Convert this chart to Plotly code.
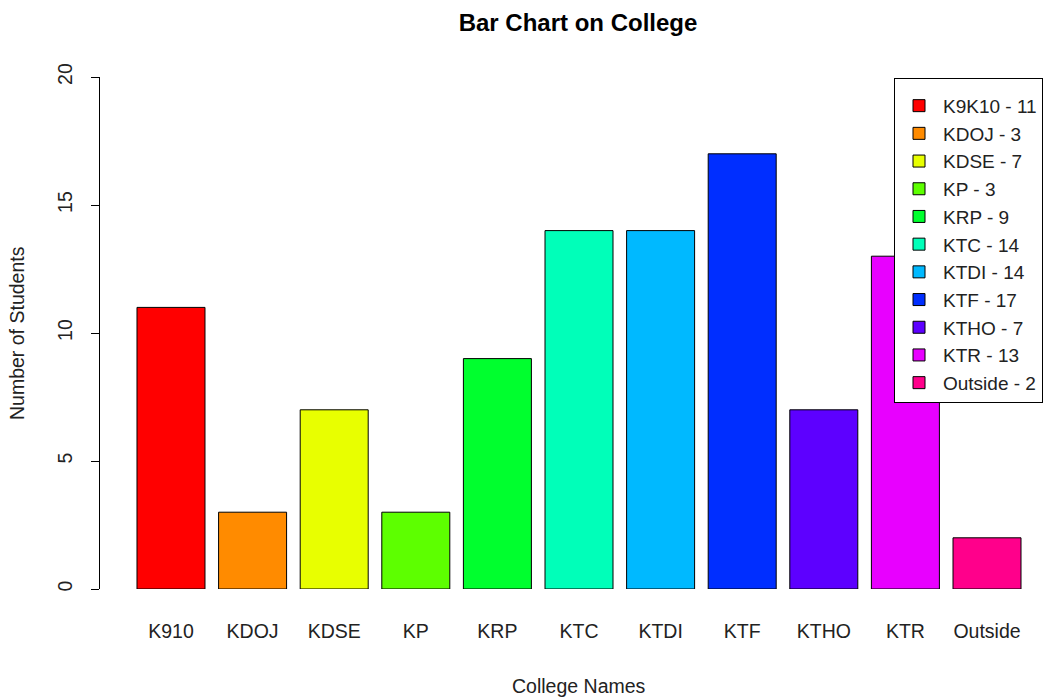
import plotly.graph_objects as go

colleges = ["K910", "KDOJ", "KDSE", "KP", "KRP", "KTC", "KTDI", "KTF", "KTHO", "KTR", "Outside"]
legend_names = ["K9K10", "KDOJ", "KDSE", "KP", "KRP", "KTC", "KTDI", "KTF", "KTHO", "KTR", "Outside"]
students = [11, 3, 7, 3, 9, 14, 14, 17, 7, 13, 2]
colors = ["#FF0000", "#FF8B00", "#E8FF00", "#5DFF00", "#00FF2E", "#00FFB9",
          "#00B9FF", "#002EFF", "#5D00FF", "#E800FF", "#FF008B"]
y_ticks = [0, 5, 10, 15, 20]

FONT = "Liberation Sans, Arial, sans-serif"

fig = go.Figure()
for i, (name, lname, val, col) in enumerate(zip(colleges, legend_names, students, colors)):
    fig.add_trace(go.Bar(
        x=[i], y=[val], width=1 / 1.2,
        name=f"{lname} - {val}",
        marker=dict(color=col, line=dict(color="black", width=1)),
    ))

fig.update_layout(
    width=1050, height=698,
    barmode="overlay",
    paper_bgcolor="white", plot_bgcolor="white",
    margin=dict(l=100, r=0, t=77, b=109, autoexpand=False),
    font=dict(family=FONT, size=19.5, color="black"),
    title=dict(text="<b>Bar Chart on College</b>", xref="container", yref="container",
               x=578 / 1050, y=1 - 23 / 698, xanchor="center", yanchor="middle",
               font=dict(family=FONT, size=24, color="black")),
    xaxis=dict(range=[-0.87, 10.772], tickmode="array", tickvals=list(range(len(colleges))),
               ticktext=colleges, showline=False, showgrid=False, zeroline=False,
               ticks="", ticklabelstandoff=28, tickfont=dict(size=19.5, color="#222")),
    yaxis=dict(range=[0, 20], tickmode="array", tickvals=y_ticks, ticktext=[str(v) for v in y_ticks],
               showline=True, linecolor="black", linewidth=1, showgrid=False, zeroline=False,
               ticks="outside", ticklen=8, tickcolor="black", tickangle=-90,
               ticklabelstandoff=11, tickfont=dict(size=19.5, color="#222")),
    legend=dict(x=(894 - 100) / 950, y=(589 - 78) / 512, xanchor="left", yanchor="top",
                bordercolor="black", borderwidth=1, bgcolor="white",
                font=dict(size=19, color="#222"), traceorder="normal", itemwidth=38,
                entrywidth=125,
                title=dict(text=" ", font=dict(size=6)),
                itemclick=False, itemdoubleclick=False),
    annotations=[
        dict(text="College Names", xref="paper", yref="paper", x=(579 - 100) / 950,
             y=(589 - 686) / 512, xanchor="center", yanchor="middle", showarrow=False,
             font=dict(size=19.5, color="#222")),
        dict(text="Number of Students", xref="paper", yref="paper", x=(17 - 100) / 950,
             y=0.5, xanchor="center", yanchor="middle", textangle=-90, showarrow=False,
             font=dict(size=19.5, color="#222")),
    ],
)

fig.write_html("out.html", config={"displayModeBar": False},
               post_script="document.body.style.margin='0';")
